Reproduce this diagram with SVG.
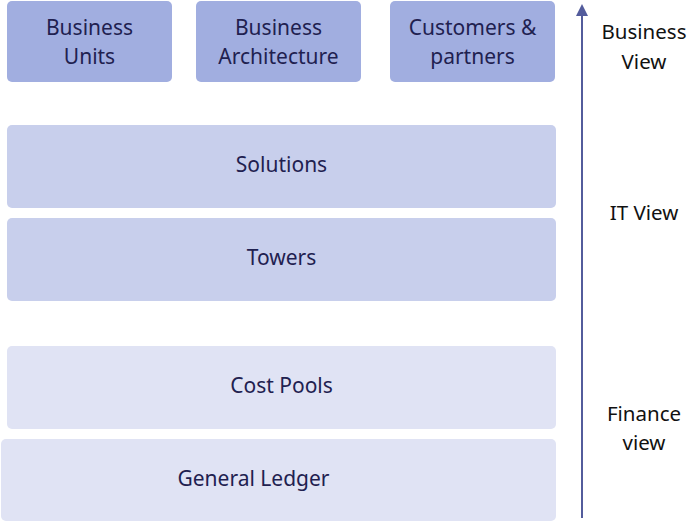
<svg xmlns="http://www.w3.org/2000/svg" width="691" height="522" viewBox="0 0 691 522">
<style>
.top{fill:#a1aee0}
.mid{fill:#c8cfec}
.low{fill:#e0e3f4}
.lbl{font-family:"Noto Sans","Open Sans",sans-serif;font-size:21px;fill:#1f2150;text-anchor:middle;dominant-baseline:central}
.side{font-family:"Noto Sans","Open Sans",sans-serif;font-size:20.5px;fill:#111111;text-anchor:middle;dominant-baseline:central}
</style>
<defs>
<marker id="ah" markerWidth="12" markerHeight="12" refX="10" refY="6" orient="auto" markerUnits="userSpaceOnUse" viewBox="0 0 12 12">
<path d="M0,0 L12,6 L0,12 Z" fill="#535c9c"/>
</marker>
</defs>
<rect width="691" height="522" fill="#ffffff"/>
<g id="business-units"><rect class="top" x="7" y="1" width="165" height="81" rx="5"/><text class="lbl" x="89.5" y="27">Business</text><text class="lbl" x="89.5" y="56">Units</text></g>
<g id="business-architecture"><rect class="top" x="196" y="1" width="165" height="81" rx="5"/><text class="lbl" x="278.5" y="27">Business</text><text class="lbl" x="278.5" y="56">Architecture</text></g>
<g id="customers-partners"><rect class="top" x="390" y="1" width="165" height="81" rx="5"/><text class="lbl" x="472.5" y="27">Customers &amp;</text><text class="lbl" x="472.5" y="56">partners</text></g>
<g id="solutions"><rect class="mid" x="7" y="125" width="549" height="83" rx="5"/><text class="lbl" x="281.5" y="164">Solutions</text></g>
<g id="towers"><rect class="mid" x="7" y="218" width="549" height="83" rx="5"/><text class="lbl" x="281.5" y="257">Towers</text></g>
<g id="cost-pools"><rect class="low" x="7" y="346" width="549" height="83" rx="5"/><text class="lbl" x="281.5" y="385">Cost Pools</text></g>
<g id="general-ledger"><rect class="low" x="1" y="439" width="555" height="82" rx="5"/><text class="lbl" x="253.5" y="478">General Ledger</text></g>
<g id="connectors"><line x1="582" y1="518" x2="582" y2="6" stroke="#535c9c" stroke-width="2" marker-end="url(#ah)"/></g>
<g id="side-labels">
<text class="side" x="644" y="31">Business</text><text class="side" x="644" y="61">View</text>
<text class="side" x="644" y="212">IT View</text>
<text class="side" x="644" y="413">Finance</text><text class="side" x="644" y="442">view</text>
</g>
</svg>
